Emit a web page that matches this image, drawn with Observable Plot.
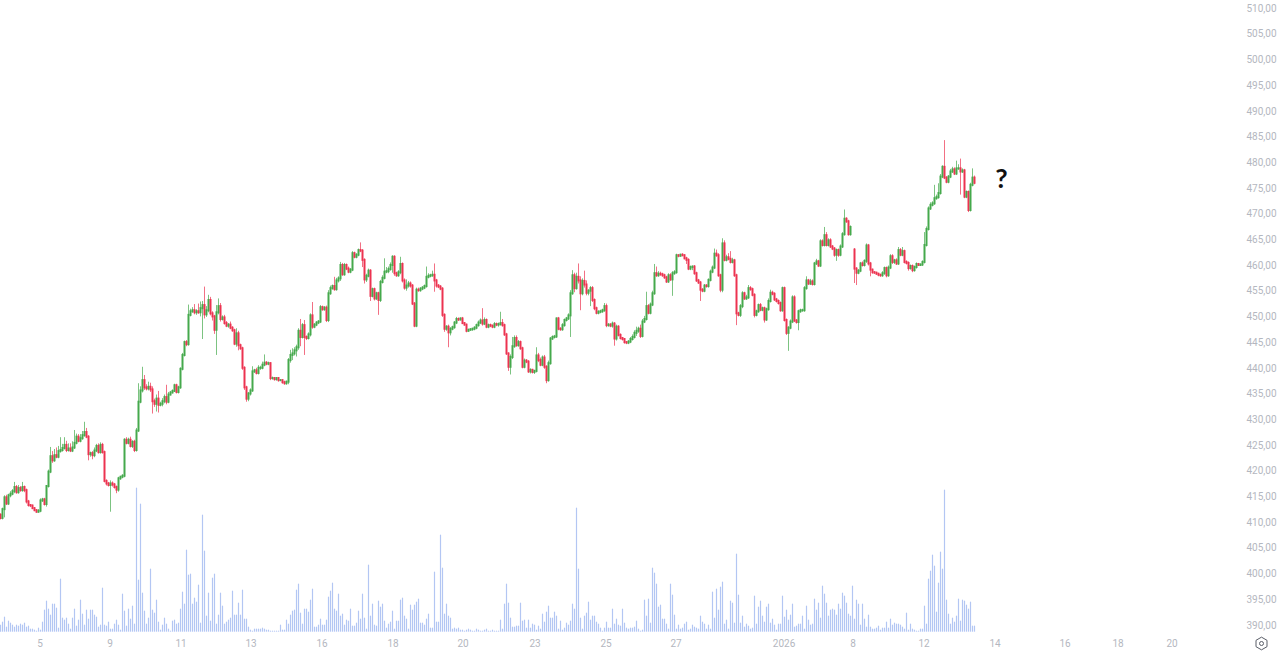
<!DOCTYPE html>
<html><head><meta charset="utf-8">
<script src="https://cdn.jsdelivr.net/npm/d3@7"></script>
<script src="https://cdn.jsdelivr.net/npm/@observablehq/plot@0.6"></script>
<style>html,body{margin:0;padding:0;background:#fff;overflow:hidden}svg{display:block}</style>
</head><body>
<div id="chart"></div>
<script>
const closes = [
410.8,412.5,414.8,413.6,415.2,415.5,416,416.8,415.8,416.6,
416.2,416.8,416.2,414,413.3,413.2,412.7,412.3,412,412.2,
414.2,414.4,413.5,417,419.8,422.8,422,423,422.7,423.8,
424,424.4,425,424,424.3,423.9,424.5,425.4,426.6,425.8,
426.3,426.9,427.5,426.6,423.2,423.4,423,423.9,424.8,423.6,
425,423.6,418,417.5,417.2,417.5,417.3,416.8,416.3,418.5,
418.8,419,426,425.4,426,424.8,425.6,424,427.8,433.4,
435.6,437.6,436.2,436,436.3,435.8,433.5,433,434,432.8,
433,433.5,434.3,433.4,434.8,435.2,435.5,436.6,435.3,436.2,
439.8,442.5,445,444.6,450.3,451,451.2,450.8,451,450.8,
451.6,452.2,450.4,451.2,453.2,450.6,450,447.4,450.8,452,
449.5,449.8,448.7,448.2,448.4,447.8,447.3,444.7,446.7,444.4,
443.8,440,436.2,434,435,435.6,439.3,439.5,439,440,
440,440.6,441,440.8,440.9,438,438,437.8,438,437.6,
437.6,437.2,437,437.3,441.5,442.5,442.8,443.4,444,447.2,
446,448.3,446,445.8,446.5,450.2,448,448.4,448.8,449,
451.8,451.4,451.7,449.3,454.5,455.5,455.9,455.3,457,457.4,
460,458.2,460,459.3,458.7,459.1,462.3,461.6,462,462.9,
462.8,461,457.2,457.9,458.9,454,455.3,453.5,454.5,453.2,
456.7,457.5,458.7,458.8,459.2,460,461.6,458.4,458,458.6,
460.2,457,455.6,456,456.4,456,452.5,448.2,455.2,455.1,
455.4,455.6,455.9,457.7,457.9,458,458.1,457,456,455.8,
455.4,450.3,447.6,448,446.9,447.6,447.9,448.8,449.5,449.4,
449.6,448.7,448.4,447.2,447.4,447.5,447.6,447.8,448.3,448.8,
449.2,448.6,449.3,448,448.3,448.2,448,448.5,448.4,448.5,
448.7,448.3,446.5,442.8,440.2,442.1,444.2,445.8,444.4,445,
443.8,440.2,441.4,441.2,439.3,439.6,439.2,439.4,442.4,441.5,
440.6,442,440.2,437.6,440.9,445.7,446,446.1,449.6,447.6,
447.5,448.3,449.3,449.6,450.2,454.5,458,455.5,457.7,457,
454.5,456.9,456.2,454.6,455,455.5,453.2,451.6,450.7,450.9,
451,451.2,452,448.3,448.4,448.2,448.6,445.7,448,446.4,
445.8,445.6,445,444.9,445.1,445.6,446,446.8,447.2,447.6,
446.2,449,449.5,452,450.7,452.3,454.5,458.4,458,458.3,
458.2,458,457.6,456.8,458,457.2,458.4,458.6,461.9,461.8,
462,461.9,461.3,461,459.3,459.6,459.7,458.4,457,456.6,
455.2,455,456,455.9,457.1,458.7,459.5,462.2,461.9,458,
455.2,464.2,461,461.5,461.2,460.6,460.9,458,450.6,450.3,
452,454.5,453.5,453.7,455.5,455.3,454.2,450.3,451,452.2,
451.3,451.6,449.4,451.4,453,454.6,454.4,453.3,453,452.6,
451.2,455.5,449.3,446.8,447.8,449,453.7,449.2,448.9,451,
451.2,451.2,455.5,457,456.4,456.8,456.3,460.3,460.7,459.9,
464.6,463.9,465.8,463.9,464.8,463.6,463.2,462,462.9,462,
463.6,466,469,468.5,466,467.4,null,459.3,458.5,458.9,
460.3,460,460.8,463.8,460.3,459.1,458.6,458.5,458.3,458.1,
458,458.4,459.4,458,459.5,461.7,460.6,460.9,460.3,462.9,
462,462.7,460.6,460.4,459.4,459.8,459,459.6,460.2,460,
460.1,460.6,463.9,467,471,471.7,472,473,473.2,474,
477.2,479.1,477,476.2,477.2,478.2,478.6,477.8,478.8,478.8,
478.2,478.4,473.3,474.2,470.7,475.6,477,476];
const firstOpen = 411.4, resumeOpen = 463;
const upperWicks = [
.3,.3,.4,.5,.3,.5,.4,1,.4,.6,
.4,1,.3,.3,.3,.2,.2,.2,.2,.3,
.4,.3,.3,.2,.4,1.8,1,1.2,1.5,1,
2.5,.8,1.5,.8,1,1,1.2,2.5,.6,.5,
.8,.8,2,.8,.3,.3,.4,.6,.4,.5,
.5,.4,.3,.3,.3,.6,.4,.3,.3,.3,
.2,.3,.3,.5,.4,.6,.3,.4,.5,3.6,
.8,2.6,1,.6,1,.8,.6,.5,.8,1.5,
.4,.6,.5,2.4,.5,.3,.3,.3,.3,.3,
.3,.4,.3,.4,2,.5,.6,1.2,.4,1.5,
1.3,.8,3.6,.8,1,.6,.4,.3,1.4,1.5,
.6,.4,.5,.4,.3,.6,.3,.3,1,.5,
.3,.3,.3,.3,.3,.4,1,.3,.5,.5,
.4,.6,1.6,.3,.3,.2,.3,.2,.2,.2,
.2,.2,.3,.2,.4,1,1,.6,.5,.5,
2.3,.4,1,.3,.4,.4,2.6,.3,.3,.3,
.4,.3,.3,.4,.6,.5,.3,1.8,.5,.4,
.6,.4,.4,.3,.4,.3,.4,.3,.3,.3,
1.5,.3,.3,.4,.4,.3,.3,.3,.3,.3,
.4,.5,2.6,.8,.5,.5,.3,.3,.3,.4,
1.4,.3,.4,1.2,.5,.4,.3,.3,.4,.4,
.3,.3,.3,2,.5,.3,.8,2.2,.3,.3,
.3,.3,.3,.3,.4,.3,.3,.3,.4,.3,
.2,.3,.2,.2,.2,.2,.2,.3,.3,.4,
.4,2.4,.5,.3,.3,.3,.2,.4,.3,.3,
2.2,.8,.3,.3,.2,.5,1.8,.5,.5,.4,
.3,.3,.4,.3,.3,.3,.2,.2,1.6,.5,
.5,.4,.5,.3,.5,.3,.3,.3,.2,.3,
.3,.4,.3,.3,.4,.6,1,.5,.8,2.6,
.8,.5,2,.8,.3,.4,.4,.3,.3,.3,
.3,.3,.6,.5,.3,.3,.4,.3,.4,.3,
.3,.2,.2,.2,.3,.4,.5,.5,.8,.4,
.8,.5,.6,2.8,.4,.4,.5,1.8,1.3,.5,
.4,.3,.3,.3,.4,.4,.4,.4,.3,.2,
.2,.3,.2,.3,.3,.3,.2,.3,.3,.3,
.3,.3,.3,.3,.3,.4,.4,1,.8,.4,
.3,1,.6,.5,.8,1.5,.5,.3,.3,.3,
.4,.4,.3,.5,.6,.4,.3,.3,.3,.3,
.4,.3,.3,.3,.5,.6,.4,.3,.3,.3,
.3,.3,.3,.3,.3,.4,.4,.4,.3,.3,
.3,.3,.4,.8,.3,.5,.4,.3,.5,.3,
.4,.4,1.6,.6,.4,.4,.3,.3,.3,.3,
.4,.4,1.8,.3,.3,.3,0,.3,.3,.3,
.3,.4,.3,.4,.3,.3,.2,.2,.2,.2,
.2,.4,.3,.3,.4,.4,.4,.3,.4,.6,
.4,.8,.3,.3,.3,.3,.3,.3,.3,.2,
.2,.3,2.5,.5,.4,.5,.4,2.6,.5,1.9,
.5,.3,5.2,.3,.3,.5,.5,.4,1.5,.8,
1.9,.4,.3,.3,.3,.4,1.8,.4];
const lowerWicks = [
.3,.3,1.6,.3,.3,.4,.3,.4,.3,.3,
.3,.3,.4,.4,.3,.3,.2,.2,.2,.2,
.3,.3,.3,.5,.3,.3,.5,.3,.3,.3,
.3,.3,.3,.4,.3,.3,.3,.3,.3,.3,
.3,.3,.3,.3,1.2,.5,.8,.4,.3,.3,
.3,.3,.3,.4,.3,5.2,.4,.3,.7,.4,
.3,.3,.3,.3,.3,.3,.4,.4,.3,.3,
.3,.4,.5,.4,.4,.5,2.4,.6,1.5,1.5,
.3,.5,.4,.5,.3,.2,.2,.2,.3,.3,
.3,.3,.3,.4,.3,.3,.3,.4,.5,.3,
.8,6,.8,.5,.4,.4,.8,.8,4.9,.4,
.5,.3,.3,.3,.4,.3,.3,.3,.6,1,
.3,.4,.5,.6,.5,.4,.3,.3,.3,.3,
.4,.3,.3,.3,.3,.4,.3,.3,.3,.3,
.2,.3,.3,.3,.5,.5,1,.4,1.2,.5,
1.8,.3,3.5,.4,.3,.4,.4,.3,.3,.3,
.3,.3,.3,.4,.4,.3,.3,.3,.3,.4,
.5,.3,.3,.3,.3,.3,.3,.3,.3,.3,
.3,1.4,.8,.5,.3,1,.3,.4,.3,2.9,
.4,.3,.3,.3,.4,.3,1.5,.5,.3,.3,
.4,.4,.4,.6,.4,.4,.3,.3,.3,.3,
.3,.3,.3,.3,.3,.3,.3,2.2,.4,.3,
.3,.4,.6,.4,2.9,.6,.3,.3,.3,.3,
.2,.2,.2,.3,.2,.2,.3,.3,.3,.3,
.3,.4,.3,.3,.3,.3,.3,.3,.3,.4,
.3,.3,.3,.3,.8,1.5,.4,.3,.3,.3,
.3,.3,.3,.3,.3,.4,.3,.4,.3,.4,
.3,.3,.4,.6,.3,.3,.3,.3,.3,.3,
.3,.3,.3,.3,.3,4.2,.3,.8,.3,.6,
3.3,.4,.6,.5,.5,3,.4,.4,.3,.3,
.3,.3,.3,.4,.3,.3,.4,1.4,.4,.3,
.3,.3,.3,.3,.3,.3,.3,.3,.6,.4,
.4,.3,.3,.3,.3,.3,.3,.3,.3,.3,
.3,.3,.3,.3,.3,.3,3.2,.3,.3,.3,
.2,.2,.2,.8,.3,.3,.6,.3,.3,.3,
2.2,.3,.3,.3,.3,.3,.3,.3,.3,.3,
.5,.5,.3,.3,.3,.3,.3,.3,2.3,.3,
.4,.4,.3,.3,.3,.3,.3,.5,.3,.3,
.3,.3,.6,.3,.3,.3,.3,.3,.3,.3,
.3,.3,.3,.4,3.5,.3,.3,.3,.3,1.6,
.3,.3,.3,.3,.3,.3,.3,.3,.3,.3,
.3,.3,.3,.3,.3,.3,.3,.4,1.2,.4,
.3,.3,.3,.3,.3,.3,0,2.8,2.4,.3,
.3,.3,.3,.4,.4,1.3,.3,.2,.2,.3,
.3,.3,.3,.4,.3,.3,.4,.4,.3,.3,
.3,.3,.3,.3,.5,.3,.4,.3,.3,.2,
.2,.3,.3,.3,.3,.3,.3,.3,.3,.3,
.3,.3,.3,.3,.3,.3,.3,.3,.3,.3,
4.5,.3,.3,.3,.4,.3,.3,.3];
const volumes = [
7,10,15,5,11,9,7,5,7,6,
8,7,9,5,6,3,3,2,1,4,
2,10,22,31,23,17,28,28,24,4,
53,14,12,14,8,3,14,23,6,12,
32,18,7,22,13,22,22,17,15,5,
7,44,7,6,10,3,3,8,12,7,
2,38,21,6,23,13,26,8,144,52,
128,39,21,8,14,63,22,19,32,10,
2,7,14,8,3,1,11,12,8,9,
23,40,28,82,57,58,28,34,30,47,
9,117,81,16,39,11,54,58,8,17,
39,26,8,10,12,14,41,17,17,29,
17,42,13,13,5,2,1,3,3,3,
3,4,3,2,2,1,1,1,1,1,
7,2,2,12,8,17,21,22,42,48,
19,8,23,23,20,32,43,5,5,7,
13,7,7,12,35,41,49,23,21,38,
16,18,7,12,11,23,6,6,9,21,
13,38,14,3,67,16,28,7,6,31,
25,28,11,4,8,10,21,3,11,11,
32,34,16,13,3,27,22,27,30,33,
9,9,7,13,18,4,4,60,10,10,
97,64,18,28,16,14,3,4,3,4,
2,2,1,2,3,2,1,1,3,2,
1,1,2,3,1,1,2,1,1,1,
12,3,28,48,29,14,5,5,6,6,
29,11,12,4,12,4,8,7,2,6,
3,18,10,20,26,14,14,20,16,3,
11,2,4,9,7,11,28,23,124,63,
14,3,16,19,30,12,16,16,10,8,
4,1,4,10,4,4,23,8,13,7,
6,23,9,4,3,4,4,5,11,3,
1,2,32,16,33,9,64,59,48,25,
27,13,13,8,3,48,37,17,3,7,
3,4,8,10,2,3,7,5,4,3,
16,10,8,3,7,3,40,14,43,22,
45,50,8,12,3,31,29,9,78,37,
9,16,5,8,6,3,4,36,8,25,
31,16,10,25,28,9,13,7,2,8,
8,36,15,22,12,17,28,5,6,8,
8,16,3,26,12,7,8,33,22,29,
14,46,38,29,16,22,23,22,17,28,
23,39,36,29,18,16,46,13,32,28,
7,28,13,5,17,5,3,3,4,6,
2,4,4,10,4,13,7,9,8,8,
7,5,3,19,2,8,3,2,1,1,
3,3,26,8,53,61,77,66,20,49,
80,63,142,32,18,8,14,10,16,33,
11,32,31,27,23,30,6,6];
const priceTicks = d3.range(390, 515, 5);
const timeTicks = [19.75,54.75,90.25,125.25,160.75,196.25,231.25,267.25,302.75,337.75,391.75,426.25,461.75,497.25,532.25,558.75,585.75];
const timeLabels = ["5","9","11","13","16","18","20","23","25","27","2026","8","12","14","16","18","20"];
const note = [{i:500.5, price:476.7, label:"?"}];

const greenUp = "#45a94c", redDown = "#ec3350", volColor = "#b3c6f3", axisGrey = "#b4b7c0";
const volumeBase = 388.66, volumeUnit = 1/5.14;

const rows = closes.map((c, i) => {
  const o = i === 0 ? firstOpen : (closes[i-1] ?? resumeOpen);
  return {i, c, o, high: c == null ? null : Math.max(o, c) + upperWicks[i], low: c == null ? null : Math.min(o, c) - lowerWicks[i], v: volumes[i]};
});
const candles = rows.filter(d => d.c != null);
const tone = d => d.c >= d.o ? greenUp : redDown;

const chart = Plot.plot({
  width: 1280, height: 653,
  marginTop: 0, marginLeft: 0, marginRight: 34, marginBottom: 16,
  style: {background: "#fff", fontFamily: "Roboto, 'Open Sans', sans-serif"},
  x: {type: "linear", domain: [0, 640], range: [0, 1280]},
  y: {type: "linear", domain: [390, 510], range: [624.8, 8]},
  marks: [
    Plot.ruleX(rows, {x: "i", y1: () => volumeBase, y2: d => volumeBase + d.v * volumeUnit, stroke: volColor, strokeWidth: 1.2}),
    Plot.ruleX(candles, {x: "i", y1: "low", y2: "high", stroke: tone, strokeWidth: 1, strokeOpacity: 0.7}),
    Plot.ruleX(candles, {x: "i", y1: "o", y2: "c", stroke: tone, strokeWidth: 2, strokeLinecap: "square"}),
    Plot.axisY(priceTicks, {anchor: "right", label: null, tickSize: 0, tickPadding: 0, fontSize: 10, fill: axisGrey, tickFormat: d => d.toFixed(2).replace(".", ",")}),
    Plot.axisX(timeTicks, {anchor: "bottom", label: null, tickSize: 0, tickPadding: 2, fontSize: 10, fill: axisGrey, tickFormat: d => timeLabels[timeTicks.indexOf(d)]}),
    Plot.text(note, {x: "i", y: "price", text: "label", fontSize: 27, fontWeight: 700, fill: "#111", fontFamily: "Lato, sans-serif"}),
    Plot.dot([0], {frameAnchor: "bottom-right", dx: 15, dy: 6, symbol: "hexagon", r: 5.5, stroke: "#5a5e68", strokeWidth: 1, fill: "none"}),
    Plot.dot([0], {frameAnchor: "bottom-right", dx: 15, dy: 6, r: 2, stroke: "#5a5e68", strokeWidth: 1, fill: "none"})
  ]
});
document.getElementById("chart").append(chart);
</script>
</body></html>
